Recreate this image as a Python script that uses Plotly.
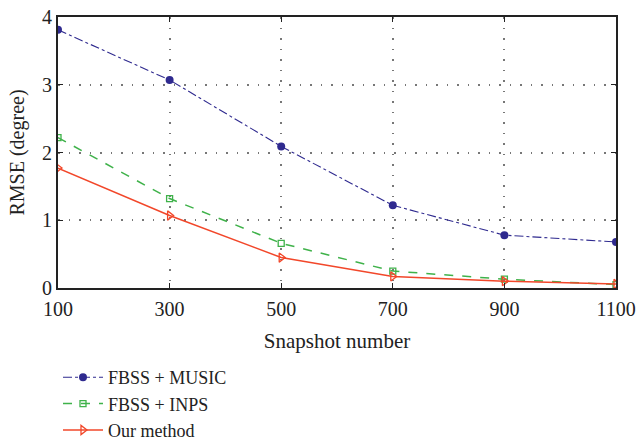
import plotly.graph_objects as go

snapshots = [100, 300, 500, 700, 900, 1100]
music = [3.81, 3.07, 2.09, 1.22, 0.78, 0.68]
inps = [2.22, 1.32, 0.66, 0.25, 0.13, 0.05]
ours = [1.77, 1.07, 0.45, 0.17, 0.10, 0.06]
names = ["FBSS + MUSIC", "FBSS + INPS", "Our method"]
xticks = [100, 300, 500, 700, 900, 1100]
yticks = [0, 1, 2, 3, 4]

font = "Liberation Serif"
fig = go.Figure()
fig.add_trace(go.Scatter(x=snapshots, y=music, name=names[0], mode="lines+markers",
                         line=dict(color="#2f2a8f", width=1.1, dash="dashdot"),
                         marker=dict(symbol="circle", size=8, color="#2f2a8f")))
fig.add_trace(go.Scatter(x=snapshots, y=inps, name=names[1], mode="lines+markers",
                         line=dict(color="#3fb24a", width=1.5, dash="dash"),
                         marker=dict(symbol="square-open", size=6, color="#3fb24a", line=dict(width=1.3))))
fig.add_trace(go.Scatter(x=snapshots, y=ours, name=names[2], mode="lines+markers",
                         line=dict(color="#f2472a", width=1.5),
                         marker=dict(symbol="triangle-right-open", size=8, color="#f2472a", line=dict(width=1.3))))

axis_common = dict(showline=True, linecolor="#222", linewidth=2, mirror="ticks",
                   ticks="inside", ticklen=5, tickcolor="#222",
                   showgrid=True, gridcolor="#777", griddash="1.5px,9px", gridwidth=1.5,
                   zeroline=False, tickfont=dict(family=font, size=20, color="#222"))
fig.update_xaxes(range=[100, 1100], tickvals=xticks, ticktext=[str(v) for v in xticks],
                 ticklabelstandoff=2,
                 title=dict(text="Snapshot number", font=dict(family=font, size=21, color="#222"), standoff=14),
                 **axis_common)
fig.update_yaxes(range=[0, 4], tickvals=yticks,
                 title=dict(text="RMSE (degree)", font=dict(family=font, size=20, color="#222"), standoff=12),
                 **axis_common)
fig.update_layout(width=638, height=445, plot_bgcolor="white", paper_bgcolor="white",
                  margin=dict(l=58, r=22, t=17, b=157, autoexpand=False),
                  legend=dict(x=0.0, y=-0.262, xanchor="left", yanchor="top",
                              font=dict(family=font, size=18, color="#222"),
                              tracegroupgap=0, itemwidth=40, bgcolor="rgba(0,0,0,0)"),
                  showlegend=True)
fig.write_html("out.html")
